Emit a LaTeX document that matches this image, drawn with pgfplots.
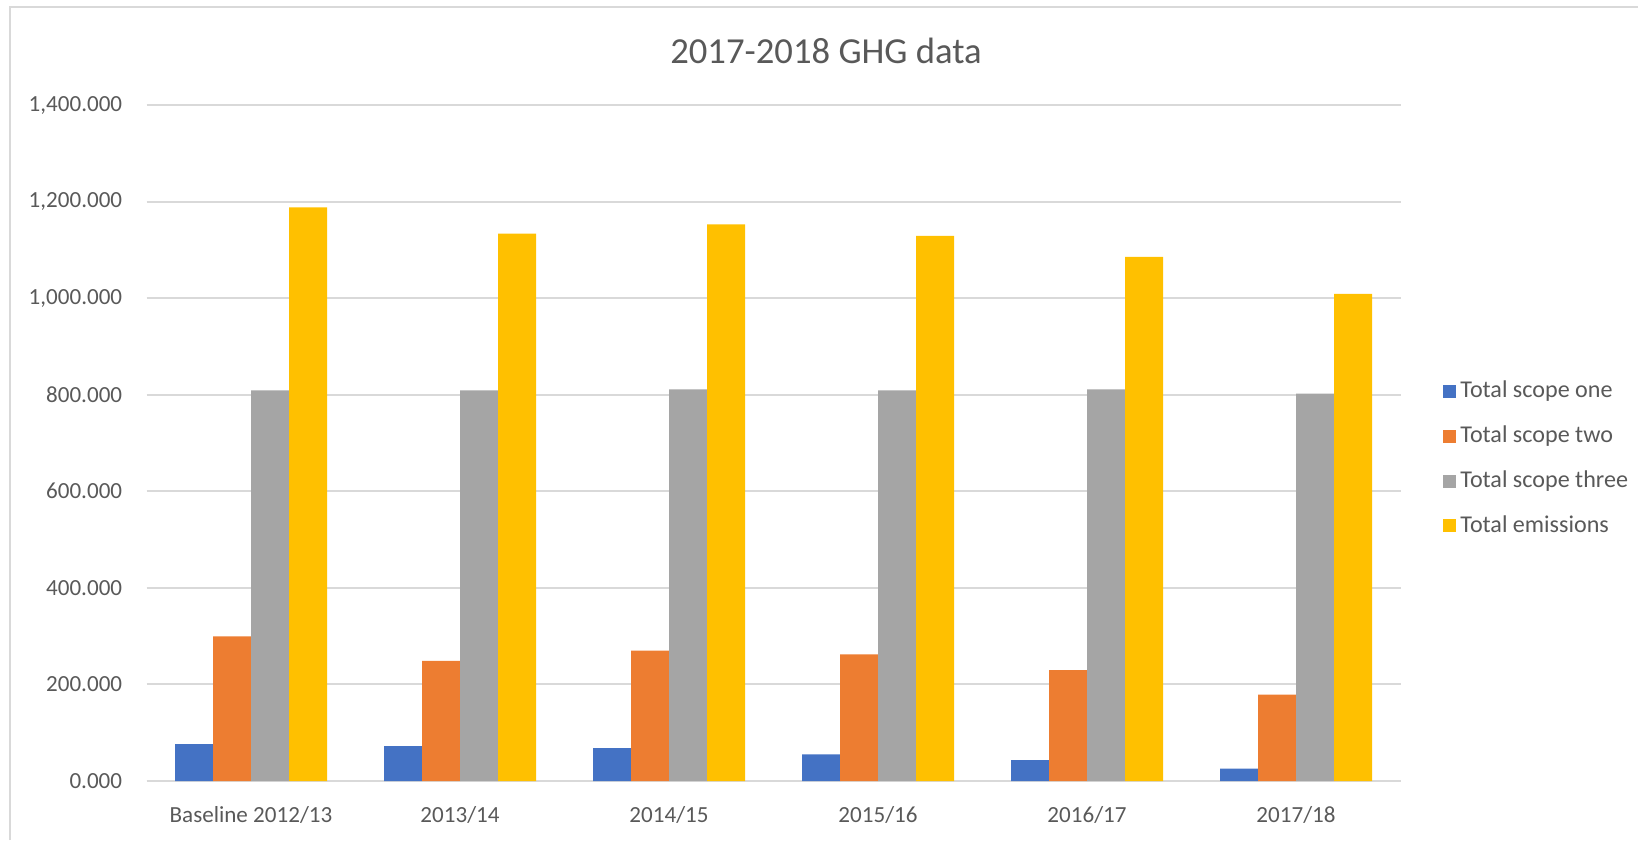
\documentclass[border=0pt]{standalone}
\usepackage{pgfplots}
\pgfplotsset{compat=1.18}
\usepackage{fontspec}
\setmainfont{Carlito}
\definecolor{cblue}{HTML}{4472C4}
\definecolor{corange}{HTML}{ED7D31}
\definecolor{cgray}{HTML}{A5A5A5}
\definecolor{cgold}{HTML}{FFC000}
\definecolor{txt}{HTML}{595959}
\definecolor{gridc}{HTML}{D9D9D9}
\begin{document}
\begin{tikzpicture}[x=0.39pt,y=0.39pt]
\path[use as bounding box] (0,0) rectangle (1638,840);
\draw[gridc, line width=0.8pt] (10,0) -- (10,833) -- (1638,833);
\begin{axis}[
  at={(57.135pt,23.01pt)}, anchor=south west,
  scale only axis, width=489.06pt, height=263.64pt,
  ybar=0pt, bar width=14.82pt,
  xmin=-0.5, xmax=5.5, ymin=0, ymax=1400,
  xtick=data,
  xticklabels={Baseline 2012/13, 2013/14, 2014/15, 2015/16, 2016/17, 2017/18},
  ytick={0,200,...,1400},
  ymajorgrids, grid style={gridc, line width=0.75pt},
  axis x line*=bottom, axis y line*=left,
  y axis line style={draw=none},
  x axis line style={gridc, line width=1.1pt},
  major tick length=0pt,
  tick label style={font=\fontsize{9}{10.8}\selectfont, text=txt},
  yticklabel style={anchor=east, inner sep=0pt, xshift=-9.3pt,
    /pgf/number format/fixed, /pgf/number format/fixed zerofill,
    /pgf/number format/precision=3, /pgf/number format/1000 sep={,},
    /pgf/number format/assume math mode=true},
  xticklabel style={anchor=base, inner sep=0pt, yshift=-16pt},
  legend style={at={(axis description cs:1.0341,0.4756)}, anchor=west,
    draw=none, fill=none, inner sep=0pt, outer sep=0pt,
    font=\fontsize{9.4}{11}\selectfont, text=txt,
    row sep=9.3pt, column sep=1.6pt,
    nodes={anchor=base west, inner sep=0pt, outer sep=0pt, text height=6.3pt, text depth=1.9pt}},
  legend image code/.code={\fill[#1] (0pt,0pt) rectangle (5.07pt,5.07pt);},
]
\addplot[fill=cblue, draw=none] coordinates {(0,76.3) (1,72.2) (2,68.1) (3,55.0) (4,43.5) (5,25.4)};
\addlegendentry{Total scope one}
\addplot[fill=corange, draw=none] coordinates {(0,299.4) (1,248.6) (2,269.9) (3,262.5) (4,229.7) (5,178.8)};
\addlegendentry{Total scope two}
\addplot[fill=cgray, draw=none] coordinates {(0,808.9) (1,808.9) (2,811.3) (3,808.9) (4,811.3) (5,802.3)};
\addlegendentry{Total scope three}
\addplot[fill=cgold, draw=none] coordinates {(0,1187.9) (1,1133.7) (2,1152.6) (3,1128.8) (4,1085.3) (5,1009.0)};
\addlegendentry{Total emissions}
\end{axis}
\node[text=txt, font=\fontsize{14.3}{17}\selectfont, inner sep=0pt, anchor=base] at (826,776.7) {2017-2018 GHG data};
\end{tikzpicture}
\end{document}
